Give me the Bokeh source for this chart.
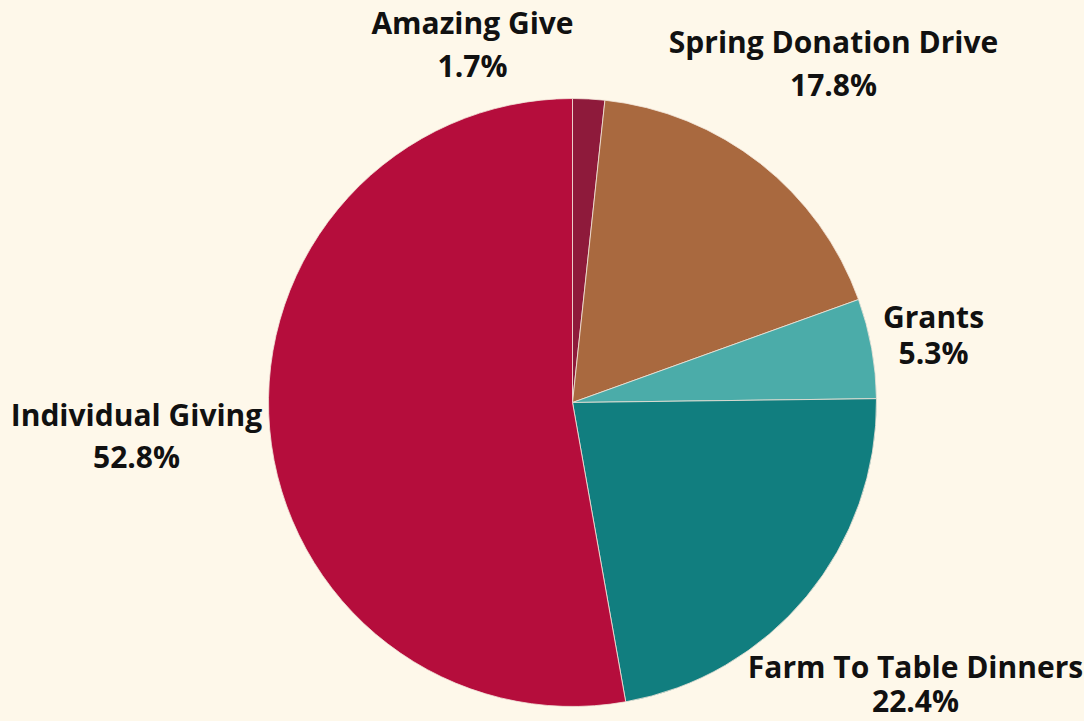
import numpy as np
from bokeh.plotting import figure
from bokeh.models import ColumnDataSource, Range1d
from bokeh.core.properties import value
from bokeh.embed import file_html
from bokeh.resources import INLINE

# ---- data ----
categories = ["Amazing Give", "Spring Donation Drive", "Grants",
              "Farm To Table Dinners", "Individual Giving"]
shares = [1.7, 17.8, 5.3, 22.4, 52.8]
colors = ["#8E1A3B", "#A9693F", "#4BACA9", "#117E7F", "#B50D3C"]
pct_labels = [f"{v:.1f}%" for v in shares]

# ---- layout (reference pixel coordinates) ----
W, H = 1084, 721
center_x, center_y_ref, radius = 572, 402, 304
label_x = [472, 833, 933, 915, 136]
name_base_ref = [22, 41, 316, 666, 414]
pct_base_ref = [65, 84, 352, 700, 456]
BG = "#FEF8EA"

cum = np.concatenate([[0], np.cumsum(shares)]) / sum(shares)
start = np.pi / 2 - 2 * np.pi * cum[:-1]
end = np.pi / 2 - 2 * np.pi * cum[1:]

src = ColumnDataSource(dict(cat=categories, start=start, end=end, color=colors))

p = figure(width=W, height=H,
           x_range=Range1d(0, W), y_range=Range1d(0, H),
           x_axis_type=None, y_axis_type=None, output_backend="svg",
           toolbar_location=None, min_border=0, outline_line_color=None,
           background_fill_color=BG, border_fill_color=BG)
p.grid.visible = False

p.wedge(x=center_x, y=H - center_y_ref, radius=radius, start_angle="start",
        end_angle="end", direction="clock", fill_color="color",
        line_color="#F3E6DA", line_width=0.8, source=src)

lab = ColumnDataSource(dict(
    x=label_x,
    yn=[H - v for v in name_base_ref],
    yp=[H - v for v in pct_base_ref],
    name=categories, pct=pct_labels))

for col, txt in (("yn", "name"), ("yp", "pct")):
    p.text(x="x", y=col, text=txt, source=lab, text_font=value("Open Sans"),
           text_font_style="bold", text_font_size="30px", text_align="center",
           text_baseline="alphabetic", text_color="#111111")

html = file_html(p, INLINE)
html = html.replace("</head>", "<style>html,body{background:%s;overflow:hidden;}</style></head>" % BG, 1)
open("out.html", "w").write(html)
